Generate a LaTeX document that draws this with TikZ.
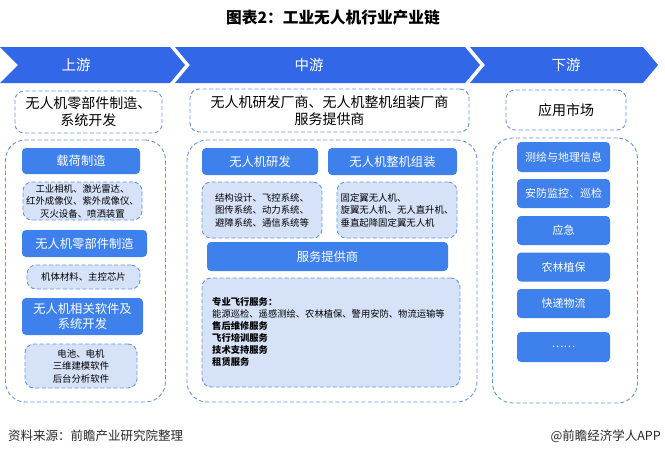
\documentclass[tikz,border=0pt]{standalone}
\usepackage{fontspec}
\setmainfont{Noto Sans CJK SC}
\definecolor{chevblue}{RGB}{50,104,232}
\definecolor{boxblue}{RGB}{62,128,236}
\definecolor{lightfill}{RGB}{214,226,248}
\definecolor{dashblue}{RGB}{100,150,232}
\definecolor{footgray}{RGB}{40,40,40}
\newcommand{\fsz}[2]{\fontsize{#1}{#2}\selectfont}
\tikzset{
  chev/.style={fill=chevblue, draw=none},
  chevlabel/.style={text=white, font=\fsz{14.5}{17}},
  bluebox/.style={fill=boxblue, draw=none, rounded corners=4pt, text=white, align=center, inner sep=0pt},
  lightbox/.style={fill=lightfill, draw=dashblue, dash pattern=on 4pt off 2.5pt, line width=0.9pt, rounded corners=9pt, align=center, inner sep=0pt, text=black},
  headbox/.style={fill=white, draw=dashblue, dash pattern=on 4pt off 2.5pt, line width=0.9pt, rounded corners=9pt, align=center, inner sep=0pt, text=black, font=\fsz{14}{17}},
  container/.style={draw=dashblue, dash pattern=on 4pt off 2.5pt, line width=0.9pt, rounded corners=20pt, inner sep=0pt},
}
\begin{document}
\begin{tikzpicture}[x=1pt,y=-1pt]
\useasboundingbox[fill=white] (0,0) rectangle (665,456);
% title
\node[font=\bfseries\fsz{15.7}{18}, text=black] (title) at (333,18) {图表2：工业无人机行业产业链};
% chevrons
\fill[chev] (0,47) -- (170,47) -- (185,65) -- (170,83) -- (0,83) -- (18,65) -- cycle;
\fill[chev] (175,47) -- (465,47) -- (480,65) -- (465,83) -- (175,83) -- (190,65) -- cycle;
\fill[chev] (470,47) -- (643,47) -- (658,65) -- (643,83) -- (470,83) -- (485,65) -- cycle;
\node[chevlabel] (up) at (76,65) {上游};
\node[chevlabel] (mid) at (309,65) {中游};
\node[chevlabel] (down) at (566,65) {下游};
% header boxes
\node[headbox, minimum width=147pt, minimum height=42pt] (hl) at (88.5,112) {无人机零部件制造、\\系统开发};
\node[headbox, minimum width=279pt, minimum height=43pt] (hm) at (329.5,110.5) {无人机研发厂商、无人机整机组装厂商\\服务提供商};
\node[headbox, minimum width=120pt, minimum height=40pt] (hr) at (566,110) {应用市场};
% containers
\node[container, minimum width=160pt, minimum height=262pt] (cl) at (85.5,271) {};
\node[container, minimum width=290pt, minimum height=262pt] (cm) at (332,271) {};
\node[container, minimum width=145pt, minimum height=265pt] (cr) at (565,270.5) {};
% left column
\node[bluebox, minimum width=118pt, minimum height=26pt, font=\fsz{12.3}{14}] (l1) at (81,161) {载荷制造};
\node[lightbox, minimum width=119pt, minimum height=38pt, font=\fsz{9.4}{12.5}] (l1t) at (82.5,201) {工业相机、激光雷达、\\红外成像仪、紫外成像仪、\\灭火设备、喷洒装置};
\node[bluebox, minimum width=125pt, minimum height=27pt, font=\fsz{12.3}{14}] (l2) at (84.5,243.5) {无人机零部件制造};
\node[lightbox, minimum width=113pt, minimum height=24pt, font=\fsz{9.4}{12}] (l2t) at (83.5,277) {机体材料、主控芯片};
\node[bluebox, minimum width=121pt, minimum height=37pt, font=\fsz{12.3}{15}] (l3) at (82.5,316.5) {无人机相关软件及\\系统开发};
\node[lightbox, minimum width=112pt, minimum height=44pt, font=\fsz{9.4}{12.5}] (l3t) at (81,366) {电池、电机\\三维建模软件\\后台分析软件};
% middle column
\node[bluebox, minimum width=116pt, minimum height=27pt, font=\fsz{12.3}{14}] (m1) at (260,161.5) {无人机研发};
\node[bluebox, minimum width=129pt, minimum height=27pt, font=\fsz{12.3}{14}] (m2) at (392.5,161.5) {无人机整机组装};
\node[lightbox, minimum width=120pt, minimum height=56pt, font=\fsz{9.4}{12.5}, align=left] (m1t) at (262,210) {结构设计、飞控系统、\\图传系统、动力系统、\\避障系统、通信系统等};
\node[lightbox, minimum width=120pt, minimum height=56pt, font=\fsz{9.4}{12.5}, align=left] (m2t) at (397,210) {固定翼无人机、\\旋翼无人机、无人直升机、\\垂直起降固定翼无人机};
\node[bluebox, minimum width=241pt, minimum height=29pt, font=\fsz{12.3}{14}] (m3) at (327.5,256.5) {服务提供商};
\node[lightbox, minimum width=258pt, minimum height=109pt] (m3t) at (331,332.5) {};
\node[anchor=north west, align=left, inner sep=0pt, font=\fsz{9.3}{12}, text=black] (m3x) at (212,297) {\textbf{专业飞行服务：}\\能源巡检、遥感测绘、农林植保、警用安防、物流运输等\\\textbf{售后维修服务}\\\textbf{飞行培训服务}\\\textbf{技术支持服务}\\\textbf{租赁服务}};
% right column
\node[bluebox, minimum width=93pt, minimum height=30pt, font=\fsz{11}{13}] (r1) at (563.5,157) {测绘与地理信息};
\node[bluebox, minimum width=93pt, minimum height=29pt, font=\fsz{11}{13}] (r2) at (563.5,193.5) {安防监控、巡检};
\node[bluebox, minimum width=93pt, minimum height=29pt, font=\fsz{11}{13}] (r3) at (563.5,230.5) {应急};
\node[bluebox, minimum width=93pt, minimum height=29pt, font=\fsz{11}{13}] (r4) at (563.5,267) {农林植保};
\node[bluebox, minimum width=93pt, minimum height=29pt, font=\fsz{11}{13}] (r5) at (563.5,303.5) {快递物流};
\node[bluebox, minimum width=93pt, minimum height=30pt, font=\fsz{11}{13}] (r6) at (563.5,347) {……};
% footer
\node[anchor=west, inner sep=0pt, font=\fsz{12.5}{14}, text=footgray] (src) at (8,436) {资料来源：前瞻产业研究院整理};
\node[anchor=east, inner sep=0pt, font=\fsz{12.5}{14}, text=footgray] (app) at (661,436) {@前瞻经济学人APP};
\end{tikzpicture}
\end{document}
